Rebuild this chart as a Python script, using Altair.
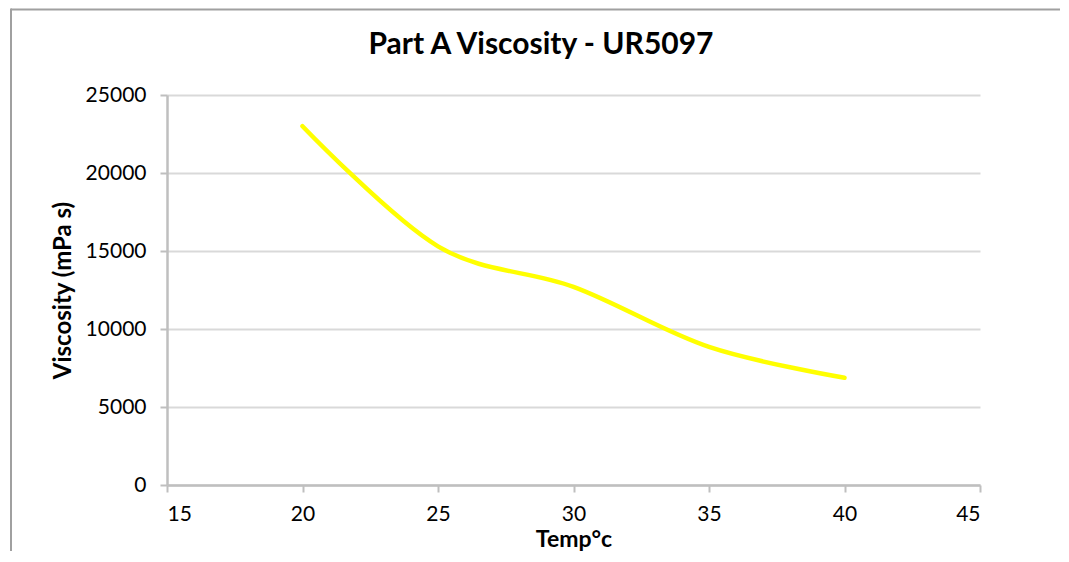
import altair as alt
import pandas as pd

temps = [20, 25, 30, 35, 40]
viscosity = [23000, 15300, 12700, 8850, 6870]

df = pd.DataFrame({"Temp": temps, "Viscosity": viscosity})

FONT = "Lato"
TITLE = "Part A Viscosity - UR5097"

line = alt.Chart(df).mark_line(
    color="#FFFF00", strokeWidth=4.5, interpolate="cardinal", strokeCap="round"
).encode(
    x=alt.X("Temp:Q", scale=alt.Scale(domain=[15, 45], nice=False),
            axis=alt.Axis(title="Temp°c", values=[15, 20, 25, 30, 35, 40, 45],
                          grid=False, domainColor="#bfbfbf", domainWidth=2.5,
                          tickColor="#bfbfbf", tickWidth=2, tickSize=7,
                          labelFont=FONT, labelFontSize=21, labelColor="#000",
                          labelPadding=11, titleFont=FONT, titleFontSize=23,
                          titleFontWeight="bold", titleColor="#000", titlePadding=4)),
    y=alt.Y("Viscosity:Q", scale=alt.Scale(domain=[0, 25000], nice=False),
            axis=alt.Axis(title="Viscosity (mPa s)",
                          values=[0, 5000, 10000, 15000, 20000, 25000],
                          format="d", grid=True, gridColor="#d9d9d9", gridWidth=2,
                          domainColor="#bfbfbf", domainWidth=2.5,
                          tickColor="#bfbfbf", tickWidth=2, tickSize=7,
                          labelFont=FONT, labelFontSize=21, labelColor="#000",
                          labelPadding=14, titleFont=FONT, titleFontSize=24,
                          titleFontWeight="bold", titleColor="#000", titlePadding=10)),
)

one = pd.DataFrame({"a": [0]})

frame_top = alt.Chart(one).mark_rule(stroke="#a0a0a0", strokeWidth=2).encode(
    x=alt.value(-156), x2=alt.value(960), y=alt.value(-85.5)
)
frame_left = alt.Chart(one).mark_rule(stroke="#a0a0a0", strokeWidth=2).encode(
    x=alt.value(-156), y=alt.value(-86.5), y2=alt.value(520)
)

title = alt.Chart(one).mark_text(
    text=TITLE, font=FONT, fontSize=30, fontWeight="bold", color="#000",
    align="center", baseline="alphabetic"
).encode(x=alt.value(374), y=alt.value(-41))

chart = alt.layer(frame_top, frame_left, line, title).properties(
    width=813, height=390,
    autosize=alt.AutoSizeParams(type="none"),
    padding={"left": 159, "top": 87, "right": 80, "bottom": 66},
).configure_view(stroke=None)

chart.save("out.html", embed_options={"renderer": "svg", "actions": False})
